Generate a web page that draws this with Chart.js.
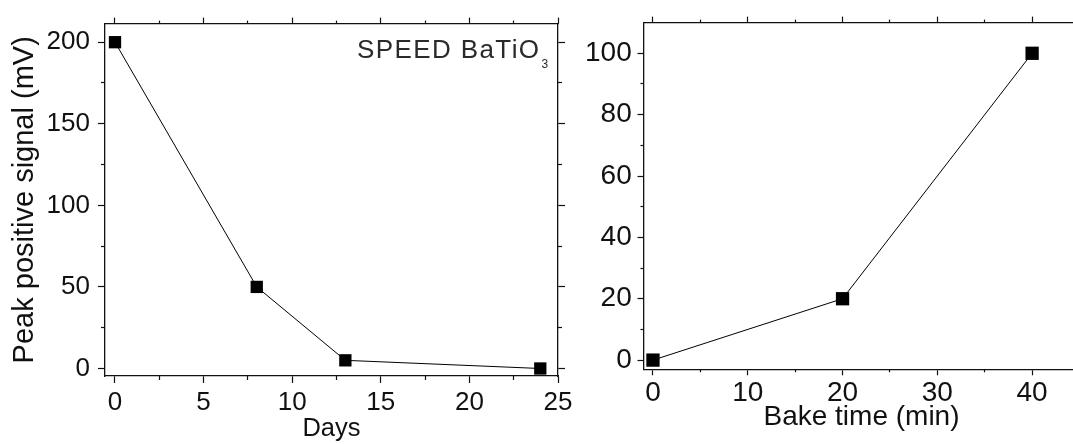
<!DOCTYPE html>
<html><head><meta charset="utf-8">
<script src="https://cdn.jsdelivr.net/npm/chart.js@4.4.1/dist/chart.umd.min.js"></script>
<style>
html,body{margin:0;padding:0;background:#fff;overflow:hidden;width:1073px;height:444px;position:relative;}
canvas{position:absolute;top:0;}
#c1{left:0}
#c2{left:560px}
</style></head><body>
<canvas id="c1" width="580" height="444"></canvas>
<canvas id="c2" width="540" height="444"></canvas>
<script>
// ---- data: left panel ----
const daysX = [0, 8, 13, 24];
const signalY = [200, 50, 5, 0];
const daysTicks = [0, 5, 10, 15, 20, 25];
const daysMinor = [2.5, 7.5, 12.5, 17.5, 22.5];
const signalTicks = [0, 50, 100, 150, 200];
const signalMinor = [25, 75, 125, 175];
const leftXTitle = 'Days';
const leftYTitle = 'Peak positive signal (mV)';
const sampleMain = 'SPEED BaTiO';
const sampleSub = '3';
// ---- data: right panel ----
const bakeX = [0, 20, 40];
const bakeY = [0, 20, 100];
const bakeTicks = [0, 10, 20, 30, 40];
const bakeMinor = [5, 15, 25, 35];
const bakeYTicks = [0, 20, 40, 60, 80, 100];
const bakeYMinor = [10, 30, 50, 70, 90];
const rightXTitle = 'Bake time (min)';

const FONT = '"Liberation Sans", Arial, Helvetica, sans-serif';
const INK = '#111';

function fixedTicks(values) { return s => { s.ticks = values.map(v => ({ value: v })); }; }
function sizeFn(px) { return s => { if (s.isHorizontal()) s.height = px; else s.width = px; }; }

function axis(position, min, max, values, o) {
  const cfg = {
    type: 'linear', position, min, max, weight: o.minor ? 0 : 1,
    afterBuildTicks: fixedTicks(values),
    afterFit: sizeFn(o.minor ? 0 : o.size),
    grid: { display: true, drawOnChartArea: false, drawTicks: true, tickLength: o.tl, tickColor: INK, tickWidth: 1.2 },
    border: { display: !o.minor, color: INK, width: 1.3 },
    ticks: { display: !!o.labels, color: INK, font: { family: FONT, size: o.fontSize || 26 }, padding: o.pad || 0, maxRotation: 0, autoSkip: false },
    title: { display: false }
  };
  if (o.title) {
    cfg.title = { display: true, text: o.title, color: INK, font: { family: FONT, size: o.titleSize, lineHeight: 1.2 }, padding: o.titlePad };
  }
  return cfg;
}

const sampleLabel = {
  id: 'sampleLabel',
  afterDatasetsDraw(chart) {
    const { ctx, chartArea } = chart;
    ctx.save();
    ctx.fillStyle = '#2a2a2a';
    ctx.textAlign = 'left';
    ctx.textBaseline = 'alphabetic';
    ctx.font = '26px ' + FONT;
    ctx.letterSpacing = '1.4px';
    const x = chartArea.left + 252, y = chartArea.top + 34;
    ctx.fillText(sampleMain, x, y);
    const w = ctx.measureText(sampleMain).width;
    ctx.letterSpacing = '0px';
    ctx.font = '12px ' + FONT;
    ctx.fillText(sampleSub, x + w + 1, y + 10);
    ctx.restore();
  }
};

function dataset(xs, ys, r) {
  return {
    data: xs.map((x, i) => ({ x, y: ys[i] })),
    showLine: true, borderColor: '#000', borderWidth: 1, tension: 0,
    pointStyle: 'rect', pointRadius: r, pointHoverRadius: r,
    pointBackgroundColor: '#000', pointBorderWidth: 0, clip: false
  };
}

const common = {
  responsive: false, maintainAspectRatio: false, animation: false, events: [],
  layout: { padding: 0 },
  plugins: { legend: { display: false }, tooltip: { enabled: false } }
};

const LX = [-0.564, 25], LY = [-4.6, 211.4];
new Chart(document.getElementById('c1'), {
  type: 'scatter',
  data: { datasets: [dataset(daysX, signalY, 8.7)] },
  options: Object.assign({}, common, {
    scales: {
      x: axis('bottom', LX[0], LX[1], daysTicks, { labels: true, size: 68, tl: 7, pad: 4, fontSize: 26, title: leftXTitle, titleSize: 25.5, titlePad: { top: 0, bottom: 0 } }),
      xMinor: axis('bottom', LX[0], LX[1], daysMinor, { minor: true, tl: 4 }),
      xTop: axis('top', LX[0], LX[1], daysTicks, { size: 16, tl: 6 }),
      xTopMinor: axis('top', LX[0], LX[1], daysMinor, { minor: true, tl: 3 }),
      y: axis('left', LY[0], LY[1], signalTicks, { labels: true, size: 105, tl: 7, pad: 8, fontSize: 26, title: leftYTitle, titleSize: 29, titlePad: { top: 7.6, bottom: 0 } }),
      yMinor: axis('left', LY[0], LY[1], signalMinor, { minor: true, tl: 4 }),
      yRight: axis('right', LY[0], LY[1], signalTicks, { size: 22, tl: 7 }),
      yRightMinor: axis('right', LY[0], LY[1], signalMinor, { minor: true, tl: 4 })
    }
  }),
  plugins: [sampleLabel]
});

const RX = [-1, 45], RY = [-3, 110];
new Chart(document.getElementById('c2'), {
  type: 'scatter',
  data: { datasets: [dataset(bakeX, bakeY, 9.4)] },
  options: Object.assign({}, common, {
    scales: {
      x: axis('bottom', RX[0], RX[1], bakeTicks, { labels: true, size: 74.7, tl: 6, pad: 1, fontSize: 28, title: rightXTitle, titleSize: 28, titlePad: { top: 0, bottom: 10 } }),
      xMinor: axis('bottom', RX[0], RX[1], bakeMinor, { minor: true, tl: 3 }),
      xTop: axis('top', RX[0], RX[1], bakeTicks, { size: 18.3, tl: 6 }),
      xTopMinor: axis('top', RX[0], RX[1], bakeMinor, { minor: true, tl: 3 }),
      y: axis('left', RY[0], RY[1], bakeYTicks, { labels: true, size: 83.5, tl: 6, pad: 5.8, fontSize: 28 }),
      yMinor: axis('left', RY[0], RY[1], bakeYMinor, { minor: true, tl: 3 }),
      yRight: axis('right', RY[0], RY[1], bakeYTicks, { size: 20.5, tl: 6 }),
      yRightMinor: axis('right', RY[0], RY[1], bakeYMinor, { minor: true, tl: 3 })
    }
  })
});
</script>
</body></html>
